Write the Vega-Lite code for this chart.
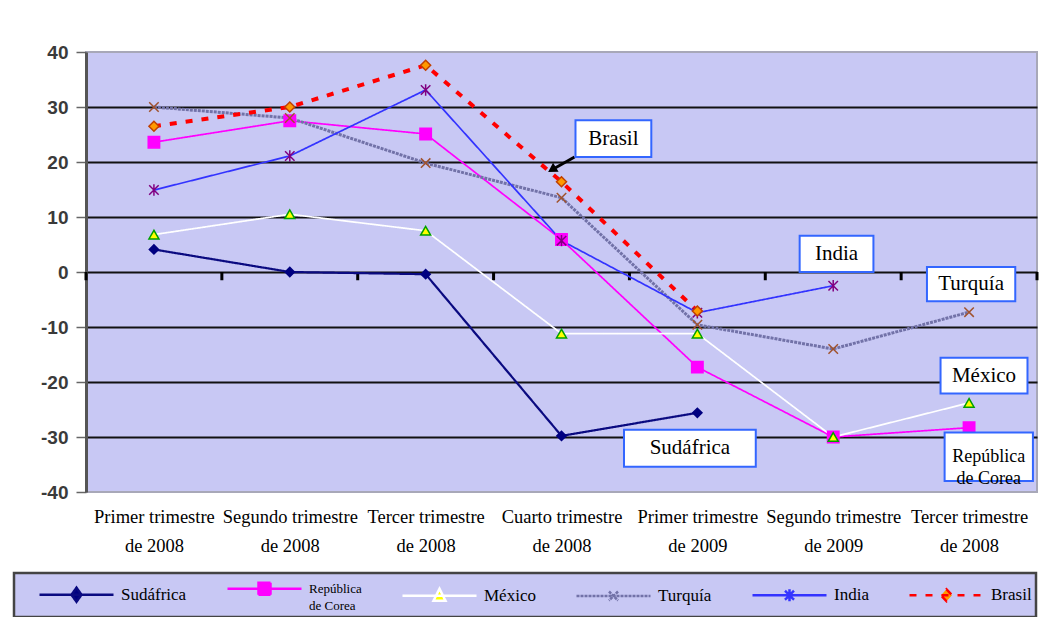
{
  "$schema": "https://vega.github.io/schema/vega-lite/v6.json",
  "autosize": {"type": "none"},
  "padding": {"left": 86, "top": 52, "right": 12, "bottom": 125},
  "width": 951,
  "height": 440,
  "background": "white",
  "datasets": {
    "series": [
      {"pais": "Sudáfrica", "idx": 0, "valor": 4.1},
      {"pais": "Sudáfrica", "idx": 1, "valor": 0},
      {"pais": "Sudáfrica", "idx": 2, "valor": -0.4},
      {"pais": "Sudáfrica", "idx": 3, "valor": -29.8},
      {"pais": "Sudáfrica", "idx": 4, "valor": -25.6},
      {"pais": "República de Corea", "idx": 0, "valor": 23.6},
      {"pais": "República de Corea", "idx": 1, "valor": 27.5},
      {"pais": "República de Corea", "idx": 2, "valor": 25.1},
      {"pais": "República de Corea", "idx": 3, "valor": 5.9},
      {"pais": "República de Corea", "idx": 4, "valor": -17.3},
      {"pais": "República de Corea", "idx": 5, "valor": -30},
      {"pais": "República de Corea", "idx": 6, "valor": -28.3},
      {"pais": "México", "idx": 0, "valor": 6.8},
      {"pais": "México", "idx": 1, "valor": 10.5},
      {"pais": "México", "idx": 2, "valor": 7.5},
      {"pais": "México", "idx": 3, "valor": -11.2},
      {"pais": "México", "idx": 4, "valor": -11.2},
      {"pais": "México", "idx": 5, "valor": -30},
      {"pais": "México", "idx": 6, "valor": -23.8},
      {"pais": "Turquía", "idx": 0, "valor": 30},
      {"pais": "Turquía", "idx": 1, "valor": 28},
      {"pais": "Turquía", "idx": 2, "valor": 19.8},
      {"pais": "Turquía", "idx": 3, "valor": 13.5},
      {"pais": "Turquía", "idx": 4, "valor": -9.6},
      {"pais": "Turquía", "idx": 5, "valor": -14},
      {"pais": "Turquía", "idx": 6, "valor": -7.3},
      {"pais": "India", "idx": 0, "valor": 14.9},
      {"pais": "India", "idx": 1, "valor": 21.1},
      {"pais": "India", "idx": 2, "valor": 33.1},
      {"pais": "India", "idx": 3, "valor": 5.7},
      {"pais": "India", "idx": 4, "valor": -7.4},
      {"pais": "India", "idx": 5, "valor": -2.5},
      {"pais": "Brasil", "idx": 0, "valor": 26.5},
      {"pais": "Brasil", "idx": 1, "valor": 30},
      {"pais": "Brasil", "idx": 2, "valor": 37.6},
      {"pais": "Brasil", "idx": 3, "valor": 16.4},
      {"pais": "Brasil", "idx": 4, "valor": -7.1}
    ],
    "anotaciones": [
      {"texto": "Brasil", "x": 3.103, "x2": 3.661, "y": 27.6, "y2": 20.9, "tx": 3.382, "ty": 24.25},
      {"texto": "India", "x": 4.753, "x2": 5.296, "y": 6.6, "y2": 0, "tx": 5.024, "ty": 3.3},
      {"texto": "Turquía", "x": 5.69, "x2": 6.34, "y": 0.9, "y2": -5.3, "tx": 6.015, "ty": -2.2},
      {"texto": "México", "x": 5.79, "x2": 6.43, "y": -15.6, "y2": -22.1, "tx": 6.11, "ty": -18.85},
      {"texto": "República\nde Corea", "x": 5.82, "x2": 6.47, "y": -29.2, "y2": -38.0, "tx": 6.145, "ty": -33.6},
      {"texto": "Sudáfrica", "x": 3.46, "x2": 4.43, "y": -28.7, "y2": -35.4, "tx": 3.945, "ty": -32.05}
    ],
    "flecha": [
      {"x": 3.096, "y": 20.9, "x2": 2.93, "y2": 18.6}
    ],
    "divisiones": [
      {"b": -0.5}, {"b": 0.5}, {"b": 1.5}, {"b": 2.5}, {"b": 3.5}, {"b": 4.5}, {"b": 5.5}, {"b": 6.5}
    ]
  },
  "layer": [
    {
      "data": {"name": "divisiones"},
      "mark": {"type": "rule", "color": "black", "strokeWidth": 3},
      "encoding": {
        "x": {"field": "b", "type": "quantitative", "title": null,
              "scale": {"domain": [-0.5, 6.5], "nice": false, "zero": false},
              "axis": {"values": [0, 1, 2, 3, 4, 5, 6], "grid": false, "ticks": false, "domain": false,
                       "labelExpr": "[['Primer trimestre','de 2008'],['Segundo trimestre','de 2008'],['Tercer trimestre','de 2008'],['Cuarto trimestre','de 2008'],['Primer trimestre','de 2009'],['Segundo trimestre','de 2009'],['Tercer trimestre','de 2008']][datum.value]",
                       "labelFont": "Liberation Serif", "labelFontSize": 18.5, "labelColor": "black",
                       "labelLineHeight": 29, "labelPadding": 15, "labelFlush": false, "labelOverlap": false, "labelBaseline": "top"}},
        "y": {"datum": 0, "type": "quantitative", "title": null,
              "scale": {"domain": [-40, 40], "nice": false},
              "axis": {"values": [-40, -30, -20, -10, 0, 10, 20, 30, 40],
                       "labelExpr": "toString(datum.value)",
                       "grid": true,
                       "gridColor": {"condition": {"test": "abs(datum.value) == 40", "value": null}, "value": "#111111"},
                       "gridWidth": 2,
                       "labelFont": "Liberation Sans", "labelFontWeight": "bold", "labelFontSize": 19, "labelColor": "#3a3a3a",
                       "tickColor": "#666666", "tickSize": 10, "tickWidth": 1.5, "labelPadding": 8,
                       "domainColor": "#555555", "domainWidth": 3}},
        "y2": {"datum": -1.5}
      }
    },
    {
      "mark": {"type": "rule", "color": "black", "strokeWidth": 3.5},
      "encoding": {"y": {"datum": 0, "type": "quantitative", "title": null}}
    },
    {
      "data": {"name": "series"},
      "mark": {"type": "line"},
      "encoding": {
        "x": {"field": "idx", "type": "quantitative", "title": null},
        "y": {"field": "valor", "type": "quantitative", "title": null},
        "color": {"field": "pais", "type": "nominal", "title": null,
                  "scale": {"domain": ["Sudáfrica", "República de Corea", "México", "Turquía", "India", "Brasil"],
                            "range": ["#0a0a80", "#ff00ff", "#ffffff", "#7272a8", "#3333ff", "#ff0000"]},
                  "legend": {
                    "orient": "none", "legendX": -72, "legendY": 521,
                    "direction": "horizontal", "columns": 6,
                    "fillColor": "#c8c8f4", "strokeColor": "#444444", "padding": 4,
                    "symbolType": "stroke", "symbolSize": 400, "symbolStrokeWidth": 2.5,
                    "labelFont": "Liberation Serif", "labelFontSize": 17, "labelColor": "black",
                    "labelLimit": 200, "columnPadding": 19, "labelOffset": 80,
                    "labelExpr": "datum.label == 'República de Corea' ? ['República', 'de Corea'] : datum.label",
                    "encode": {
                      "legend": {"update": {"strokeWidth": {"value": 2.5}}},
                      "symbols": {"update": {
                        "shape": {"signal": "datum.value == 'Sudáfrica' ? 'M1,0L8.4,0M4.7,-0.7L5.2,0L4.7,0.7L4.2,0Z' : datum.value == 'República de Corea' ? 'M1,0L8.4,0M4.1,-0.6L5.3,-0.6L5.3,0.6L4.1,0.6Z' : datum.value == 'México' ? 'M1,0L8.4,0M4.7,-0.7L5.3,0.5L4.1,0.5Z' : datum.value == 'Turquía' ? 'M1,0L8.4,0M4.25,-0.45L5.15,0.45M5.15,-0.45L4.25,0.45' : datum.value == 'India' ? 'M1,0L8.4,0M4.25,-0.45L5.15,0.45M5.15,-0.45L4.25,0.45M4.7,-0.6L4.7,0.6' : 'M1,0L8.4,0M4.7,-0.6L5.25,0L4.7,0.6L4.15,0Z'"},
                        "fill": {"signal": "datum.value == 'Sudáfrica' ? '#000080' : datum.value == 'República de Corea' ? '#ff00ff' : datum.value == 'México' ? '#ffff00' : datum.value == 'Brasil' ? '#ff9900' : 'transparent'"},
                        "stroke": {"signal": "datum.value == 'Sudáfrica' ? '#0a0a80' : datum.value == 'República de Corea' ? '#ff00ff' : datum.value == 'México' ? '#ffffff' : datum.value == 'Turquía' ? '#7272a8' : datum.value == 'India' ? '#3333ff' : '#ff0000'"},
                        "strokeDash": {"signal": "datum.value == 'Brasil' ? [6, 7] : datum.value == 'Turquía' ? [3, 1] : [1, 0]"},
                        "strokeWidth": {"value": 2.5},
                        "opacity": {"value": 1}
                      }},
                      "labels": {"update": {
                        "font": {"value": "Liberation Serif"},
                        "fontSize": {"signal": "datum.label == 'República de Corea' ? 13 : 17"},
                        "lineHeight": {"value": 17},
                        "fill": {"value": "black"}
                      }}
                    }
                  }},
        "strokeDash": {"field": "pais", "type": "nominal", "title": null,
                       "scale": {"domain": ["Sudáfrica", "República de Corea", "México", "Turquía", "India", "Brasil"],
                                 "range": [[1, 0], [1, 0], [1, 0], [3, 1], [1, 0], [7, 9]]}},
        "strokeWidth": {"condition": [
                          {"test": "datum.pais == 'Brasil'", "value": 4},
                          {"test": "datum.pais == 'Turquía'", "value": 3},
                          {"test": "datum.pais == 'Sudáfrica'", "value": 2.2}
                        ], "value": 1.7}
      }
    },
    {
      "data": {"name": "series"},
      "mark": {"type": "point", "filled": false, "opacity": 1, "strokeWidth": 1.5},
      "encoding": {
        "x": {"field": "idx", "type": "quantitative", "title": null},
        "y": {"field": "valor", "type": "quantitative", "title": null},
        "shape": {"condition": [
                    {"test": "datum.pais == 'República de Corea'", "value": "square"},
                    {"test": "datum.pais == 'México'", "value": "triangle-up"},
                    {"test": "datum.pais == 'Turquía'", "value": "M-1,-1L1,1M1,-1L-1,1"},
                    {"test": "datum.pais == 'India'", "value": "M-1,-1L1,1M1,-1L-1,1M0,-1.2L0,1.2"}
                  ], "value": "diamond"},
        "fill": {"condition": [
                    {"test": "datum.pais == 'Sudáfrica'", "value": "#000080"},
                    {"test": "datum.pais == 'República de Corea'", "value": "#ff00ff"},
                    {"test": "datum.pais == 'México'", "value": "#ffff00"},
                    {"test": "datum.pais == 'Brasil'", "value": "#ff9900"}
                  ], "value": "transparent"},
        "stroke": {"condition": [
                    {"test": "datum.pais == 'Sudáfrica'", "value": "#000080"},
                    {"test": "datum.pais == 'República de Corea'", "value": "#ff00ff"},
                    {"test": "datum.pais == 'México'", "value": "#00a000"},
                    {"test": "datum.pais == 'Turquía'", "value": "#a0522d"},
                    {"test": "datum.pais == 'India'", "value": "#800080"}
                  ], "value": "#c04000"},
        "size": {"condition": [
                    {"test": "datum.pais == 'República de Corea'", "value": 130},
                    {"test": "datum.pais == 'Sudáfrica'", "value": 85},
                    {"test": "datum.pais == 'Turquía' || datum.pais == 'India'", "value": 90}
                  ], "value": 100}
      }
    },
    {
      "data": {"name": "flecha"},
      "mark": {"type": "rule", "color": "black", "strokeWidth": 3},
      "encoding": {
        "x": {"field": "x", "type": "quantitative", "title": null},
        "y": {"field": "y", "type": "quantitative", "title": null},
        "x2": {"field": "x2"},
        "y2": {"field": "y2"}
      }
    },
    {
      "data": {"name": "flecha"},
      "mark": {"type": "point", "shape": "triangle-up", "filled": true, "color": "black", "size": 110, "angle": 238, "opacity": 1},
      "encoding": {
        "x": {"field": "x2", "type": "quantitative", "title": null},
        "y": {"field": "y2", "type": "quantitative", "title": null}
      }
    },
    {
      "data": {"name": "anotaciones"},
      "mark": {"type": "rect", "fill": "white", "stroke": "#3366ff", "strokeWidth": 2},
      "encoding": {
        "x": {"field": "x", "type": "quantitative", "title": null},
        "x2": {"field": "x2"},
        "y": {"field": "y", "type": "quantitative", "title": null},
        "y2": {"field": "y2"}
      }
    },
    {
      "data": {"name": "anotaciones"},
      "mark": {"type": "text", "font": "Liberation Serif", "color": "black", "lineBreak": "\n", "lineHeight": 22, "align": "center", "baseline": "middle"},
      "encoding": {
        "x": {"field": "tx", "type": "quantitative", "title": null},
        "y": {"field": "ty", "type": "quantitative", "title": null},
        "text": {"field": "texto"},
        "size": {"condition": {"test": "indexof(datum.texto, 'Corea') >= 0", "value": 18}, "value": 21}
      }
    }
  ],
  "config": {
    "view": {"fill": "#c8c8f4", "stroke": "#a8a8b8", "strokeWidth": 2}
  }
}
